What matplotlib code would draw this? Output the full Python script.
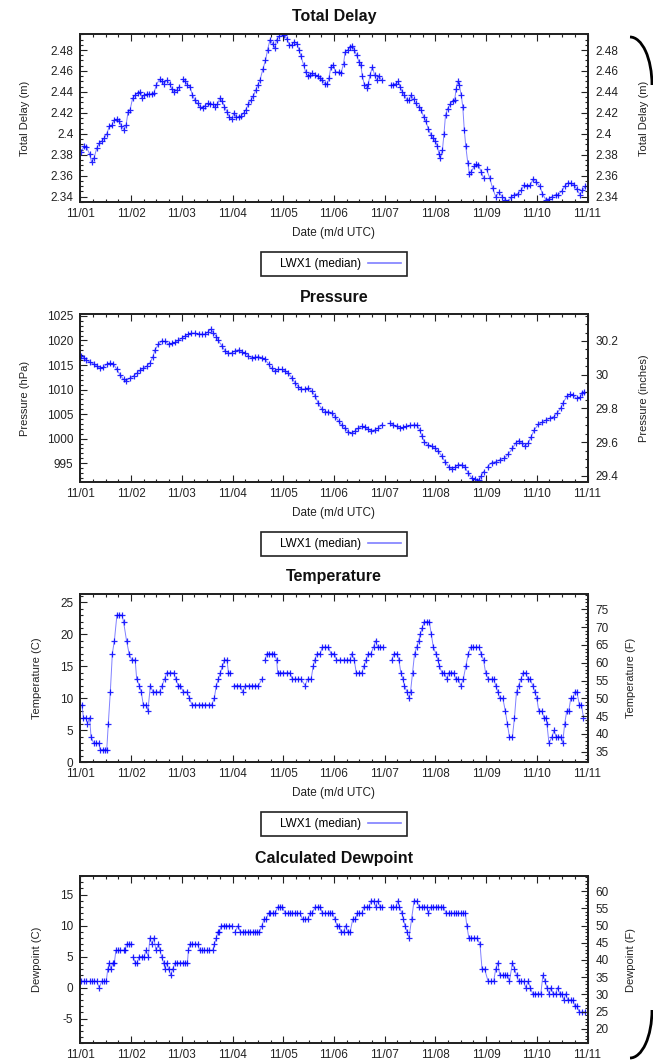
import numpy as np
import matplotlib.pyplot as plt
from matplotlib.lines import Line2D
from matplotlib.patches import Arc
from matplotlib.ticker import MultipleLocator, FuncFormatter

plt.rcParams['font.family'] = ['Liberation Sans', 'DejaVu Sans']

nan = np.nan

# x values are days after 11/01 00:00 UTC; nan marks a gap in the record
day_labels = ['11/01', '11/02', '11/03', '11/04', '11/05', '11/06',
              '11/07', '11/08', '11/09', '11/10', '11/11']
series_label = 'LWX1 (median)'

# Total delay (m)
delay_day = [0.02, 0.07, 0.12, 0.18, 0.22, 0.27, 0.32, 0.37, 0.42, 0.47, 0.52, 0.57, 0.62, 0.66, 0.72,
             0.77, 0.81, 0.86, 0.90, 0.94, 0.98, 1.03, 1.08, 1.13, 1.18, 1.21, 1.25, 1.31, 1.36, 1.41,
             1.45, 1.50, 1.56, 1.60, 1.65, 1.70, 1.76, 1.80, 1.85, 1.90, 1.95, 1.99, 2.02, 2.06, 2.11,
             2.16, 2.21, 2.26, 2.31, 2.36, 2.41, 2.46, 2.51, 2.56, 2.61, 2.65, 2.70, 2.75, 2.80, 2.84,
             2.89, 2.94, 2.98, 3.03, 3.07, 3.12, 3.17, 3.22, 3.26, 3.31, 3.36, 3.41, 3.46, 3.50, 3.54,
             3.60, 3.65, 3.69, 3.74, 3.79, 3.83, 3.87, 3.92, 3.97, 4.02, 4.07, 4.12, 4.17, 4.22, 4.27,
             4.31, 4.35, 4.40, 4.44, 4.48, 4.53, 4.57, 4.63, 4.68, 4.73, 4.77, 4.82, 4.87, 4.90, 4.94,
             4.99, 5.03, 5.09, 5.14, 5.19, 5.22, 5.27, 5.32, 5.36, 5.40, 5.45, 5.49, 5.53, 5.56, 5.60,
             5.65, 5.68, 5.71, 5.76, 5.80, 5.84, 5.89, 5.94, 6.03, 6.13, 6.17, 6.22, 6.27, 6.30, 6.35,
             6.39, 6.44, 6.48, 6.52, 6.57, 6.61, 6.67, 6.72, 6.77, 6.81, 6.86, 6.91, 6.95, 7.00, 7.04,
             7.07, 7.10, 7.14, 7.17, 7.20, 7.24, 7.29, 7.34, 7.38, 7.41, 7.44, 7.47, 7.51, 7.54, 7.57,
             7.60, 7.64, 7.67, 7.71, 7.77, 7.81, 7.85, 7.90, 7.95, 7.98, 8.01, 8.07, 8.13, 8.19, 8.25,
             8.32, 8.38, 8.44, 8.50, 8.56, 8.63, 8.69, 8.75, 8.81, 8.87, 8.93, 8.99, 9.06, 9.11, 9.18,
             9.24, 9.30, 9.37, 9.42, 9.49, 9.55, 9.61, 9.67, 9.74, 9.79, 9.85, 9.90, 9.96]
delay_m = [2.383, 2.388, 2.387, 2.381, 2.373, 2.377, 2.386, 2.391, 2.393, 2.396, 2.400, 2.407, 2.408, 2.413, 2.414,
           2.412, 2.407, 2.404, 2.408, 2.421, 2.423, 2.434, 2.437, 2.439, 2.440, 2.434, 2.437, 2.438, 2.438, 2.438,
           2.439, 2.447, 2.452, 2.450, 2.448, 2.451, 2.448, 2.443, 2.440, 2.442, 2.445, nan, 2.452, 2.450, 2.447,
           2.445, 2.437, 2.432, 2.429, 2.426, 2.425, 2.427, 2.429, 2.428, 2.428, 2.426, 2.428, 2.434, 2.431, 2.426,
           2.421, 2.416, 2.414, 2.420, 2.416, 2.416, 2.417, 2.420, 2.423, 2.428, 2.432, 2.436, 2.442, 2.447, 2.451,
           2.462, 2.470, 2.480, 2.490, 2.486, 2.482, 2.490, 2.493, 2.496, 2.494, 2.491, 2.485, 2.485, 2.488, 2.486,
           2.480, 2.474, 2.466, 2.459, 2.455, 2.456, 2.458, 2.456, 2.455, 2.453, 2.451, 2.448, 2.448, 2.453, 2.464,
           2.466, 2.459, 2.459, 2.458, 2.467, 2.478, 2.480, 2.483, 2.484, 2.480, 2.475, 2.469, 2.466, 2.455, 2.447,
           2.444, 2.448, 2.456, 2.464, 2.456, 2.451, 2.455, 2.451, nan, 2.447, 2.447, 2.448, 2.450, 2.445, 2.440,
           2.437, 2.432, 2.432, 2.437, 2.433, 2.429, 2.426, 2.423, 2.416, 2.412, 2.405, 2.399, 2.396, 2.393, 2.388,
           2.381, 2.377, 2.385, 2.400, 2.418, 2.424, 2.428, 2.431, 2.432, 2.443, 2.450, 2.447, 2.437, 2.426, 2.404,
           2.388, 2.372, 2.362, 2.364, 2.369, 2.371, 2.370, 2.364, 2.358, nan, 2.366, 2.358, 2.348, 2.340, 2.344,
           2.340, 2.337, 2.335, 2.340, 2.342, 2.343, 2.346, 2.351, 2.350, 2.351, 2.357, 2.354, 2.350, 2.343, 2.337,
           2.338, 2.340, 2.342, 2.342, 2.345, 2.350, 2.353, 2.353, 2.351, 2.347, 2.342, 2.346, 2.350]

# Pressure (hPa)
pres_day = [0.02, 0.07, 0.12, 0.19, 0.26, 0.32, 0.39, 0.45, 0.52, 0.58, 0.65, 0.72, 0.78, 0.85, 0.90,
            0.97, 1.05, 1.11, 1.18, 1.24, 1.31, 1.37, 1.43, 1.47, 1.54, 1.60, 1.67, 1.74, 1.80, 1.87,
            1.93, 2.00, 2.06, 2.13, 2.19, 2.26, 2.33, 2.39, 2.46, 2.52, 2.57, 2.62, 2.68, 2.72, 2.79,
            2.85, 2.92, 2.98, 3.05, 3.12, 3.18, 3.25, 3.31, 3.38, 3.44, 3.51, 3.58, 3.64, 3.71, 3.77,
            3.84, 3.90, 3.97, 4.04, 4.10, 4.17, 4.23, 4.30, 4.36, 4.43, 4.49, 4.56, 4.63, 4.69, 4.76,
            4.82, 4.89, 4.96, 5.02, 5.09, 5.15, 5.22, 5.28, 5.35, 5.42, 5.48, 5.55, 5.61, 5.68, 5.74,
            5.81, 5.87, 5.94, 6.02, 6.10, 6.17, 6.24, 6.30, 6.37, 6.43, 6.50, 6.57, 6.63, 6.69, 6.73,
            6.78, 6.85, 6.93, 7.00, 7.06, 7.13, 7.19, 7.26, 7.32, 7.39, 7.45, 7.52, 7.58, 7.65, 7.72,
            7.78, 7.82, 7.86, 7.90, 7.95, 7.99, 8.03, 8.11, 8.19, 8.27, 8.36, 8.44, 8.52, 8.59, 8.64,
            8.70, 8.77, 8.83, 8.89, 8.95, 9.03, 9.10, 9.18, 9.26, 9.34, 9.40, 9.47, 9.52, 9.59, 9.65,
            9.71, 9.79, 9.85, 9.90, 9.94]
pres_hpa = [1016.9, 1016.5, 1016.0, 1015.6, 1015.2, 1014.8, 1014.3, 1014.5, 1015.2, 1015.4, 1015.2, 1014.1, 1013.0, 1012.1, 1011.8,
            1012.3, 1012.8, 1013.3, 1013.9, 1014.3, 1014.8, 1015.4, 1016.7, 1018.1, 1019.2, 1019.9, 1019.8, 1019.3, 1019.4, 1019.6,
            1020.0, 1020.5, 1020.9, 1021.3, 1021.5, 1021.5, 1021.3, 1021.3, 1021.3, 1021.8, 1022.3, 1021.6, 1020.8, 1020.0, 1018.9,
            1017.9, 1017.4, 1017.5, 1017.9, 1018.1, 1017.7, 1017.4, 1016.9, 1016.5, 1016.6, 1016.7, 1016.5, 1016.2, 1015.2, 1014.3,
            1013.8, 1014.1, 1014.1, 1013.8, 1013.3, 1012.4, 1011.4, 1010.6, 1010.1, 1010.1, 1010.3, 1009.7, 1008.7, 1007.2, 1006.0,
            1005.5, 1005.5, 1005.2, 1004.5, 1003.6, 1002.8, 1002.1, 1001.4, 1001.1, 1001.6, 1002.1, 1002.5, 1002.3, 1001.9, 1001.6,
            1001.8, 1002.1, 1002.8, nan, 1003.1, 1002.8, 1002.5, 1002.1, 1002.3, 1002.5, 1002.7, 1002.8, 1002.8, 1001.8, 1000.6,
            999.4, 998.7, 998.4, 998.0, 997.4, 996.4, 995.3, 994.3, 993.8, 994.2, 994.7, 994.7, 994.2, 993.0, 991.9,
            991.7, 991.3, 991.6, 992.3, 993.3, nan, 994.3, 995.1, 995.3, 995.7, 996.0, 996.9, 998.0, 999.2, 999.6,
            999.1, 998.5, 999.1, 1000.4, 1001.8, 1002.9, 1003.3, 1003.8, 1004.2, 1004.5, 1005.2, 1006.2, 1007.3, 1008.6, 1009.0,
            1008.8, 1008.2, 1008.4, 1009.3, 1009.6]

# Temperature (C)
temp_day = [0.03, 0.06, 0.11, 0.14, 0.18, 0.21, 0.26, 0.31, 0.36, 0.39, 0.44, 0.49, 0.52, 0.55, 0.59,
            0.63, 0.67, 0.72, 0.77, 0.82, 0.85, 0.91, 0.96, 1.01, 1.08, 1.11, 1.16, 1.20, 1.24, 1.30,
            1.33, 1.38, 1.43, 1.49, 1.56, 1.61, 1.66, 1.70, 1.77, 1.84, 1.88, 1.93, 1.97, 2.03, 2.10,
            2.15, 2.20, 2.26, 2.33, 2.39, 2.46, 2.53, 2.59, 2.64, 2.68, 2.72, 2.76, 2.80, 2.84, 2.89,
            2.92, 2.95, 2.99, 3.03, 3.09, 3.15, 3.20, 3.25, 3.32, 3.38, 3.45, 3.51, 3.58, 3.61, 3.64,
            3.68, 3.72, 3.77, 3.82, 3.87, 3.89, 3.94, 4.00, 4.07, 4.13, 4.18, 4.23, 4.30, 4.35, 4.43,
            4.48, 4.55, 4.59, 4.62, 4.67, 4.73, 4.77, 4.83, 4.89, 4.94, 5.01, 5.05, 5.12, 5.19, 5.25,
            5.32, 5.35, 5.40, 5.44, 5.50, 5.55, 5.59, 5.63, 5.68, 5.73, 5.78, 5.82, 5.86, 5.91, 5.96,
            6.05, 6.14, 6.19, 6.24, 6.28, 6.32, 6.36, 6.39, 6.44, 6.48, 6.51, 6.55, 6.59, 6.63, 6.67,
            6.70, 6.74, 6.78, 6.83, 6.88, 6.92, 6.96, 7.01, 7.05, 7.08, 7.13, 7.17, 7.23, 7.26, 7.30,
            7.36, 7.40, 7.45, 7.50, 7.55, 7.60, 7.65, 7.70, 7.75, 7.81, 7.86, 7.90, 7.95, 7.99, 8.04,
            8.11, 8.15, 8.19, 8.23, 8.27, 8.33, 8.38, 8.42, 8.46, 8.52, 8.56, 8.60, 8.64, 8.69, 8.73,
            8.78, 8.83, 8.87, 8.92, 8.96, 9.00, 9.04, 9.10, 9.14, 9.18, 9.20, 9.24, 9.30, 9.34, 9.38,
            9.42, 9.47, 9.51, 9.55, 9.59, 9.63, 9.67, 9.71, 9.75, 9.79, 9.84, 9.88, 9.92]
temp_c = [9, 7, 7, 6, 7, 4, 3, 3, 3, 2, 2, 2, 2, 6, 11,
          17, 19, 23, 23, 23, 22, 19, 17, 16, 16, 13, 12, 11, 9, 9,
          8, 12, 11, 11, 11, 12, 13, 14, 14, 14, 13, 12, 12, 11, 11,
          10, 9, 9, 9, 9, 9, 9, 9, 10, 12, 13, 14, 15, 16, 16,
          14, 14, nan, 12, 12, 12, 11, 12, 12, 12, 12, 12, 13, nan, 16,
          17, 17, 17, 17, 16, 14, 14, 14, 14, 14, 13, 13, 13, 13, 12,
          13, 13, 15, 16, 17, 17, 18, 18, 18, 17, 17, 16, 16, 16, 16,
          16, 17, 16, 14, 14, 14, 15, 16, 17, 17, 18, 19, 18, 18, 18,
          nan, 16, 17, 17, 16, 14, 13, 12, 11, 10, 11, 14, 17, 18, 19,
          20, 21, 22, 22, 22, 20, 18, 17, 16, 15, 14, 14, 13, 14, 14,
          14, 13, 13, 12, 13, 15, 17, 18, 18, 18, 18, 17, 16, 14, 13,
          13, 13, 12, 11, 10, 10, 8, 6, 4, 4, 7, 11, 12, 13, 14,
          14, 13, 13, 12, 11, 10, 8, 8, 7, 7, 6, 3, 4, 5, 4,
          4, 4, 3, 6, 8, 8, 10, 10, 11, 11, 9, 9, 7]

# Calculated dewpoint (C)
dew_day = [0.02, 0.07, 0.12, 0.18, 0.22, 0.27, 0.32, 0.37, 0.42, 0.47, 0.51, 0.54, 0.57, 0.60, 0.64,
           0.67, 0.70, 0.75, 0.79, 0.85, 0.88, 0.91, 0.96, 0.99, 1.01, 1.04, 1.08, 1.12, 1.16, 1.21,
           1.26, 1.29, 1.34, 1.37, 1.41, 1.45, 1.49, 1.54, 1.57, 1.60, 1.64, 1.67, 1.70, 1.74, 1.78,
           1.82, 1.87, 1.91, 1.96, 2.02, 2.06, 2.11, 2.13, 2.16, 2.21, 2.26, 2.31, 2.35, 2.39, 2.44,
           2.49, 2.54, 2.61, 2.64, 2.68, 2.71, 2.74, 2.78, 2.83, 2.88, 2.94, 2.98, 3.01, 3.05, 3.11,
           3.15, 3.20, 3.25, 3.30, 3.35, 3.40, 3.44, 3.49, 3.53, 3.58, 3.62, 3.66, 3.71, 3.74, 3.79,
           3.84, 3.89, 3.94, 3.98, 4.04, 4.09, 4.13, 4.18, 4.23, 4.28, 4.33, 4.38, 4.43, 4.48, 4.53,
           4.57, 4.63, 4.68, 4.73, 4.77, 4.83, 4.88, 4.92, 4.97, 5.02, 5.06, 5.10, 5.14, 5.19, 5.23,
           5.27, 5.32, 5.37, 5.42, 5.46, 5.50, 5.55, 5.59, 5.65, 5.69, 5.73, 5.78, 5.82, 5.86, 5.91,
           5.95, 6.04, 6.13, 6.17, 6.22, 6.26, 6.29, 6.34, 6.37, 6.40, 6.44, 6.48, 6.53, 6.58, 6.63,
           6.68, 6.73, 6.78, 6.83, 6.86, 6.91, 6.96, 7.01, 7.06, 7.11, 7.16, 7.21, 7.26, 7.31, 7.36,
           7.40, 7.45, 7.51, 7.55, 7.59, 7.62, 7.66, 7.71, 7.77, 7.82, 7.88, 7.92, 7.97, 8.04, 8.09,
           8.15, 8.19, 8.23, 8.27, 8.33, 8.38, 8.42, 8.46, 8.52, 8.56, 8.60, 8.64, 8.69, 8.74, 8.78,
           8.83, 8.87, 8.92, 8.97, 9.03, 9.08, 9.12, 9.16, 9.20, 9.24, 9.28, 9.32, 9.37, 9.41, 9.45,
           9.49, 9.53, 9.57, 9.61, 9.67, 9.71, 9.75, 9.79, 9.84, 9.89, 9.96]
dew_c = [1, 1, 1, 1, 1, 1, 1, 0, 1, 1, 1, 3, 4, 3, 4,
         4, 6, 6, 6, 6, 6, 7, 7, 7, nan, 5, 4, 4, 5, 5,
         5, 6, 5, 8, 7, 8, 6, 7, 6, 5, 4, 3, 4, 3, 2,
         3, 4, 4, 4, 4, 4, 4, 6, 7, 7, 7, 7, 6, 6, 6,
         6, 6, 6, 7, 8, 9, 9, 10, 10, 10, 10, 10, nan, 9, 10,
         9, 9, 9, 9, 9, 9, 9, 9, 9, 10, 11, 11, 12, 12, 12,
         12, 13, 13, 13, 12, 12, 12, 12, 12, 12, 12, 11, 11, 11, 12,
         12, 13, 13, 13, 12, 12, 12, 12, 12, 11, 10, 10, 9, 9, 10,
         9, 9, 11, 11, 12, 12, 12, 13, 13, 13, 14, 14, 13, 14, 13,
         13, nan, 13, 13, 13, 14, 13, 12, 11, 10, 9, 8, 11, 14, 14,
         13, 13, 13, 13, 12, 13, 13, 13, 13, 13, 13, 12, 12, 12, 12,
         12, 12, 12, 12, 12, 10, 8, 8, 8, 8, 7, 3, 3, 1, 1,
         1, 3, 4, 2, 2, 2, 2, 1, 4, 3, 2, 1, 1, 1, 0,
         1, 0, -1, -1, -1, -1, 2, 1, 0, -1, 0, -1, -1, 0, -1,
         -1, -2, -1, -2, -2, -2, -3, -3, -4, -4, -4]

W, H = 653, 1061
LEFT, RIGHT = 80.4, 587.5
XC = (LEFT + RIGHT) / 2
BLUE = '#0000ff'
LIGHT = '#6a6aff'

fig = plt.figure(figsize=(W / 100, H / 100), dpi=100)


def gfmt(v, pos):
    return '%g' % round(v, 4)


def fy(px):
    return 1 - px / H


def panel(top, bottom, days, vals, title, ylab, y2lab, ylim, yticks, ymin,
          y2lim, y2ticks, y2min, ylab_x, y2lab_x, legend=True, xlabel=True):
    ax = fig.add_axes([LEFT / W, fy(bottom), (RIGHT - LEFT) / W, (bottom - top) / H])
    ax.plot(days, vals, color=LIGHT, lw=0.7, marker='+', ms=4, mew=0.9,
            mec=BLUE, alpha=0.85)
    ax.set_xlim(0, 10)
    ax.set_ylim(*ylim)
    ax.set_xticks(range(11))
    ax.set_xticklabels(day_labels)
    ax.xaxis.set_minor_locator(MultipleLocator(0.25))
    ax.set_yticks(yticks)
    ax.yaxis.set_major_formatter(FuncFormatter(gfmt))
    ax.yaxis.set_minor_locator(MultipleLocator(ymin))
    ax.tick_params(which='both', direction='in', top=True, right=False,
                   labelsize=8.5, colors='#222222', width=0.8)
    ax.tick_params(axis='x', pad=4)
    ax.tick_params(axis='y', pad=5)
    ax.tick_params(which='major', length=5)
    ax.tick_params(which='minor', length=2.5)

    ax2 = ax.twinx()
    ax2.set_ylim(*y2lim)
    ax2.set_yticks(y2ticks)
    ax2.yaxis.set_major_formatter(FuncFormatter(gfmt))
    ax2.yaxis.set_minor_locator(MultipleLocator(y2min))
    ax2.tick_params(which='both', direction='in', labelsize=8.5, pad=6,
                    colors='#222222', width=0.8)
    ax2.tick_params(which='major', length=5)
    ax2.tick_params(which='minor', length=2.5)

    for a in (ax, ax2):
        for s in a.spines.values():
            s.set_linewidth(1.3)
            s.set_color('#222222')

    fig.text(XC / W, fy(top - 17), title, ha='center', va='center',
             fontsize=11.5, fontweight='bold', color='#111111')
    mid = (top + bottom) / 2
    fig.text(ylab_x / W, fy(mid), ylab, rotation=90, ha='center', va='center',
             fontsize=8, color='#222222')
    fig.text(y2lab_x / W, fy(mid), y2lab, rotation=90, ha='center', va='center',
             fontsize=8, color='#222222')
    if xlabel:
        fig.text(XC / W, fy(bottom + 31), 'Date (m/d UTC)', ha='center', va='center',
                 fontsize=8.5, color='#222222')
    if legend:
        h = Line2D([], [], color=BLUE, lw=1.2, alpha=0.5)
        leg = ax2.legend([h], ['    ' + series_label], loc='center',
                         bbox_to_anchor=(0.5, -62 / (bottom - top)),
                         markerfirst=False, fancybox=False, framealpha=1,
                         edgecolor='#222222', fontsize=8.5, handlelength=2.8,
                         handletextpad=0.6, borderpad=0.5)
        leg.get_frame().set_linewidth(1.2)
    return ax


panel(34, 202.3, delay_day, delay_m, 'Total Delay', 'Total Delay (m)', 'Total Delay (m)',
      (2.3346, 2.4953), [2.34, 2.36, 2.38, 2.40, 2.42, 2.44, 2.46, 2.48], 0.005,
      (2.3346, 2.4953), [2.34, 2.36, 2.38, 2.40, 2.42, 2.44, 2.46, 2.48], 0.005,
      25, 644)
panel(314, 482.3, pres_day, pres_hpa, 'Pressure', 'Pressure (hPa)', 'Pressure (inches)',
      (991.1, 1025.4), [995, 1000, 1005, 1010, 1015, 1020, 1025], 1,
      (29.362, 30.36), [29.4, 29.6, 29.8, 30.0, 30.2], 0.05,
      25, 644)
panel(594, 762.3, temp_day, temp_c, 'Temperature', 'Temperature (C)', 'Temperature (F)',
      (0, 26.3), [0, 5, 10, 15, 20, 25], 1,
      (32, 79.34), [35, 40, 45, 50, 55, 60, 65, 70, 75], 1,
      37.5, 631)
panel(876, 1043.3, dew_day, dew_c, 'Calculated Dewpoint', 'Dewpoint (C)', 'Dewpoint (F)',
      (-9, 18), [-5, 0, 5, 10, 15], 1,
      (15.8, 64.4), [20, 25, 30, 35, 40, 45, 50, 55, 60], 1,
      37.5, 631, legend=False, xlabel=False)

# page-edge bracket visible at the right margin of the scan
fig.add_artist(Arc((630 / W, fy(85)), 44 / W, 96 / H, theta1=0, theta2=90,
                   transform=fig.transFigure, color='black', lw=2))
fig.add_artist(Arc((630 / W, fy(1010)), 44 / W, 96 / H, theta1=270, theta2=360,
                   transform=fig.transFigure, color='black', lw=2))

fig.savefig('out.png', dpi=100)
